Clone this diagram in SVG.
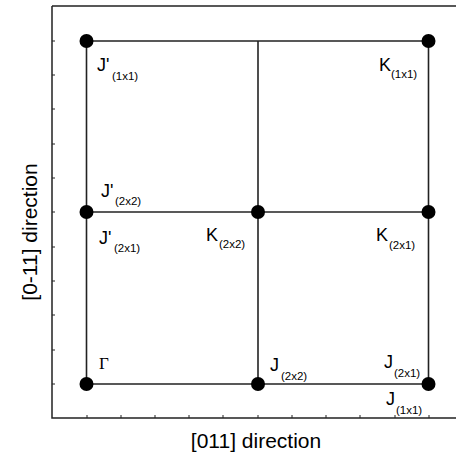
<svg xmlns="http://www.w3.org/2000/svg" width="456" height="457" viewBox="0 0 456 457">
<style>
.frame{fill:none;stroke:#222;stroke-width:1.5}
.tick{stroke:#222;stroke-width:1}
.edge{stroke:#222;stroke-width:1.6;fill:none}
.pt{fill:#000}
.lb{font-family:"Liberation Sans",Arial,sans-serif;font-size:18px;fill:#000}
.sb{font-family:"Liberation Sans",Arial,sans-serif;font-size:11.5px;fill:#000}
.gm{font-family:"Liberation Serif","Times New Roman",serif;font-size:17px;fill:#000}
.ax{font-family:"Liberation Sans",Arial,sans-serif;font-size:21px;fill:#000}
</style>
<rect width="456" height="457" fill="#fff"/>
<g id="axes">
<path class="frame" d="M52 6 H457 M52 6 V418 H457"/>
<path class="tick" d="M52 41h3M52 75h3M52 109h3M52 144h3M52 178h3M52 212h3M52 247h3M52 281h3M52 315h3M52 350h3M52 384h3"/>
<path class="tick" d="M87 418v-3M121 418v-3M155 418v-3M189 418v-3M223 418v-3M258 418v-3M292 418v-3M326 418v-3M360 418v-3M395 418v-3M429 418v-3"/>
<text class="ax" x="256" y="448" text-anchor="middle">[011] direction</text>
<text class="ax" transform="translate(37 232) rotate(-90)" text-anchor="middle">[0-11] direction</text>
</g>
<g id="connectors">
<path class="edge" d="M86.5 41 H428.5 V384 H86.5 Z"/>
<path class="edge" d="M258 41 V384"/>
<path class="edge" d="M86.5 212 H428.5"/>
</g>
<g id="gamma">
<circle class="pt" cx="86.5" cy="384" r="7"/>
<text class="gm" x="99" y="369">Γ</text>
</g>
<g id="Jp1x1">
<circle class="pt" cx="86.5" cy="41" r="7"/>
<text class="lb" x="97" y="71">J'</text><text class="sb" x="112" y="80">(1x1)</text>
</g>
<g id="Jp2x2">
<circle class="pt" cx="86.5" cy="212" r="7"/>
<text class="lb" x="101" y="197">J'</text><text class="sb" x="115" y="205">(2x2)</text>
<text class="lb" x="99" y="244">J'</text><text class="sb" x="114" y="252">(2x1)</text>
</g>
<g id="K2x2">
<circle class="pt" cx="258" cy="212" r="7"/>
<text class="lb" x="206" y="241">K</text><text class="sb" x="219" y="248">(2x2)</text>
</g>
<g id="K1x1">
<circle class="pt" cx="428.5" cy="41" r="7"/>
<text class="lb" x="379" y="71">K</text><text class="sb" x="391" y="78">(1x1)</text>
</g>
<g id="K2x1">
<circle class="pt" cx="428.5" cy="212" r="7"/>
<text class="lb" x="376" y="241">K</text><text class="sb" x="389" y="249">(2x1)</text>
</g>
<g id="J2x2">
<circle class="pt" cx="258" cy="384" r="7"/>
<text class="lb" x="270" y="371">J</text><text class="sb" x="281" y="380">(2x2)</text>
</g>
<g id="J2x1">
<circle class="pt" cx="428.5" cy="384" r="7"/>
<text class="lb" x="384" y="368">J</text><text class="sb" x="394" y="377">(2x1)</text>
<text class="lb" x="386" y="405">J</text><text class="sb" x="396" y="414">(1x1)</text>
</g>
</svg>
